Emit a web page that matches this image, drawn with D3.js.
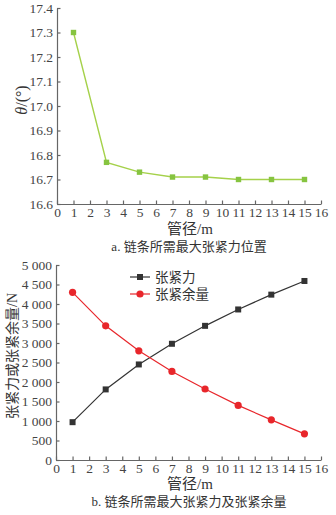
<!DOCTYPE html>
<html>
<head>
<meta charset="utf-8">
<script src="https://cdn.jsdelivr.net/npm/d3@7"></script>
<style>
  body { margin: 0; background: #fff; }
</style>
</head>
<body>
<div id="chart-area"></div>
<script>
// data
var pipeSizes = [1, 3, 5, 7, 9, 11, 13, 15];
var theta = [17.3, 16.77, 16.73, 16.71, 16.71, 16.70, 16.70, 16.70];
var tension = [970, 1810, 2450, 2980, 3440, 3860, 4240, 4590];
var margin_ = [4300, 3440, 2800, 2270, 1820, 1400, 1030, 670];
var seriesNames = ['张紧力', '张紧余量'];
var xLabel = '管径/m';
var captionA = 'a. 链条所需最大张紧力位置';
var captionB = 'b. 链条所需最大张紧力及张紧余量';
var yLabelB = '张紧力或张紧余量/N';

var serif = '"Times New Roman", Times, "Liberation Serif", "DejaVu Serif", "Noto Sans CJK SC", serif';

var svg = d3.select('#chart-area')
  .append('svg')
    .attr('width', 336)
    .attr('height', 515)
    .attr('font-family', serif);

var axisColor = '#666';

function styleAxis(sel) {
  sel.attr('font-family', serif).attr('font-size', 13.5);
  sel.selectAll('path, line').attr('stroke', axisColor).attr('stroke-width', 1.2);
  sel.selectAll('text')
    .style('font-family', serif)
    .attr('fill', '#444');
}

function addText(x, y, size, str) {
  return svg.append('text')
    .attr('x', x).attr('y', y)
    .attr('text-anchor', 'middle')
    .attr('font-size', size)
    .attr('fill', '#333')
    .style('font-family', serif)
    .text(str);
}

// ---------- chart a ----------
var gA = svg.append('g').attr('transform', 'translate(57, 8)');
var wA = 264, hA = 196;

var xA = d3.scaleLinear().domain([0, 16]).range([0, wA]);
var yA = d3.scaleLinear().domain([16.6, 17.4]).range([hA, 0]);

gA.append('g')
  .attr('transform', 'translate(0,' + hA + ')')
  .call(d3.axisBottom(xA).ticks(16).tickSize(-3.5).tickPadding(3).tickSizeOuter(0))
  .call(styleAxis);

gA.append('g')
  .call(d3.axisLeft(yA).ticks(8).tickFormat(d3.format('.1f')).tickSize(-3.5).tickPadding(4).tickSizeOuter(0))
  .call(styleAxis);

var ptsA = pipeSizes.map((d, i) => ({ x: d, y: theta[i] }));

gA.append('path')
  .datum(ptsA)
  .attr('fill', 'none')
  .attr('stroke', '#a5d14a')
  .attr('stroke-width', 1.4)
  .attr('d', d3.line().x(d => xA(d.x)).y(d => yA(d.y)));

gA.selectAll('rect.pt')
  .data(ptsA)
  .enter()
  .append('rect')
    .attr('class', 'pt')
    .attr('x', d => xA(d.x) - 2.7)
    .attr('y', d => yA(d.y) - 2.7)
    .attr('width', 5.4)
    .attr('height', 5.4)
    .attr('fill', '#86c440');

// y label a
var yLabA = svg.append('text')
  .attr('transform', 'translate(27, 100) rotate(-90)')
  .attr('text-anchor', 'middle')
  .attr('font-size', 16)
  .attr('fill', '#333')
  .style('font-family', serif);
yLabA.append('tspan').attr('font-style', 'italic').text('θ');
yLabA.append('tspan').text('/(°)');

addText(190, 234, 15, xLabel);
addText(189, 251, 13, captionA);

// ---------- chart b ----------
var gB = svg.append('g').attr('transform', 'translate(56, 265)');
var wB = 265, hB = 195;

var xB = d3.scaleLinear().domain([0, 16]).range([0, wB]);
var yB = d3.scaleLinear().domain([0, 5000]).range([hB, 0]);

var fmt = d => d3.format(',')(d).replace(',', ' ');

gB.append('g')
  .attr('transform', 'translate(0,' + hB + ')')
  .call(d3.axisBottom(xB).ticks(16).tickSize(-3.5).tickPadding(3).tickSizeOuter(0))
  .call(styleAxis);

gB.append('g')
  .call(d3.axisLeft(yB).ticks(10).tickFormat(fmt).tickSize(-3.5).tickPadding(4).tickSizeOuter(0))
  .call(styleAxis);

var line = d3.line().x(d => xB(d.x)).y(d => yB(d.y));

var ptsT = pipeSizes.map((d, i) => ({ x: d, y: tension[i] }));
var ptsM = pipeSizes.map((d, i) => ({ x: d, y: margin_[i] }));

gB.append('path')
  .datum(ptsT)
  .attr('fill', 'none')
  .attr('stroke', '#333')
  .attr('stroke-width', 1.2)
  .attr('d', line);

gB.append('path')
  .datum(ptsM)
  .attr('fill', 'none')
  .attr('stroke', '#e8262b')
  .attr('stroke-width', 1.2)
  .attr('d', line);

gB.selectAll('rect.pt')
  .data(ptsT)
  .enter()
  .append('rect')
    .attr('class', 'pt')
    .attr('x', d => xB(d.x) - 3)
    .attr('y', d => yB(d.y) - 3)
    .attr('width', 6)
    .attr('height', 6)
    .attr('fill', '#333');

gB.selectAll('circle.pt')
  .data(ptsM)
  .enter()
  .append('circle')
    .attr('class', 'pt')
    .attr('cx', d => xB(d.x))
    .attr('cy', d => yB(d.y))
    .attr('r', 3.6)
    .attr('fill', '#e8262b');

// legend
var legend = svg.append('g').attr('transform', 'translate(130, 277)');
legend.append('line').attr('x1', 0).attr('x2', 20).attr('y1', 0).attr('y2', 0)
  .attr('stroke', '#333').attr('stroke-width', 1.2);
legend.append('rect').attr('x', 7).attr('y', -3).attr('width', 6).attr('height', 6).attr('fill', '#333');
legend.append('text').attr('x', 25).attr('y', 5).attr('font-size', 13.5).attr('fill', '#333')
  .style('font-family', serif).text(seriesNames[0]);

legend.append('line').attr('x1', 0).attr('x2', 20).attr('y1', 17).attr('y2', 17)
  .attr('stroke', '#e8262b').attr('stroke-width', 1.2);
legend.append('circle').attr('cx', 10).attr('cy', 17).attr('r', 3.6).attr('fill', '#e8262b');
legend.append('text').attr('x', 25).attr('y', 22).attr('font-size', 13.5).attr('fill', '#333')
  .style('font-family', serif).text(seriesNames[1]);

svg.append('text')
  .attr('transform', 'translate(17, 356) rotate(-90)')
  .attr('text-anchor', 'middle')
  .attr('font-size', 14)
  .attr('fill', '#333')
  .style('font-family', serif)
  .text(yLabelB);

addText(190, 489, 15, xLabel);
addText(189, 506, 13, captionB);
</script>
</body>
</html>
